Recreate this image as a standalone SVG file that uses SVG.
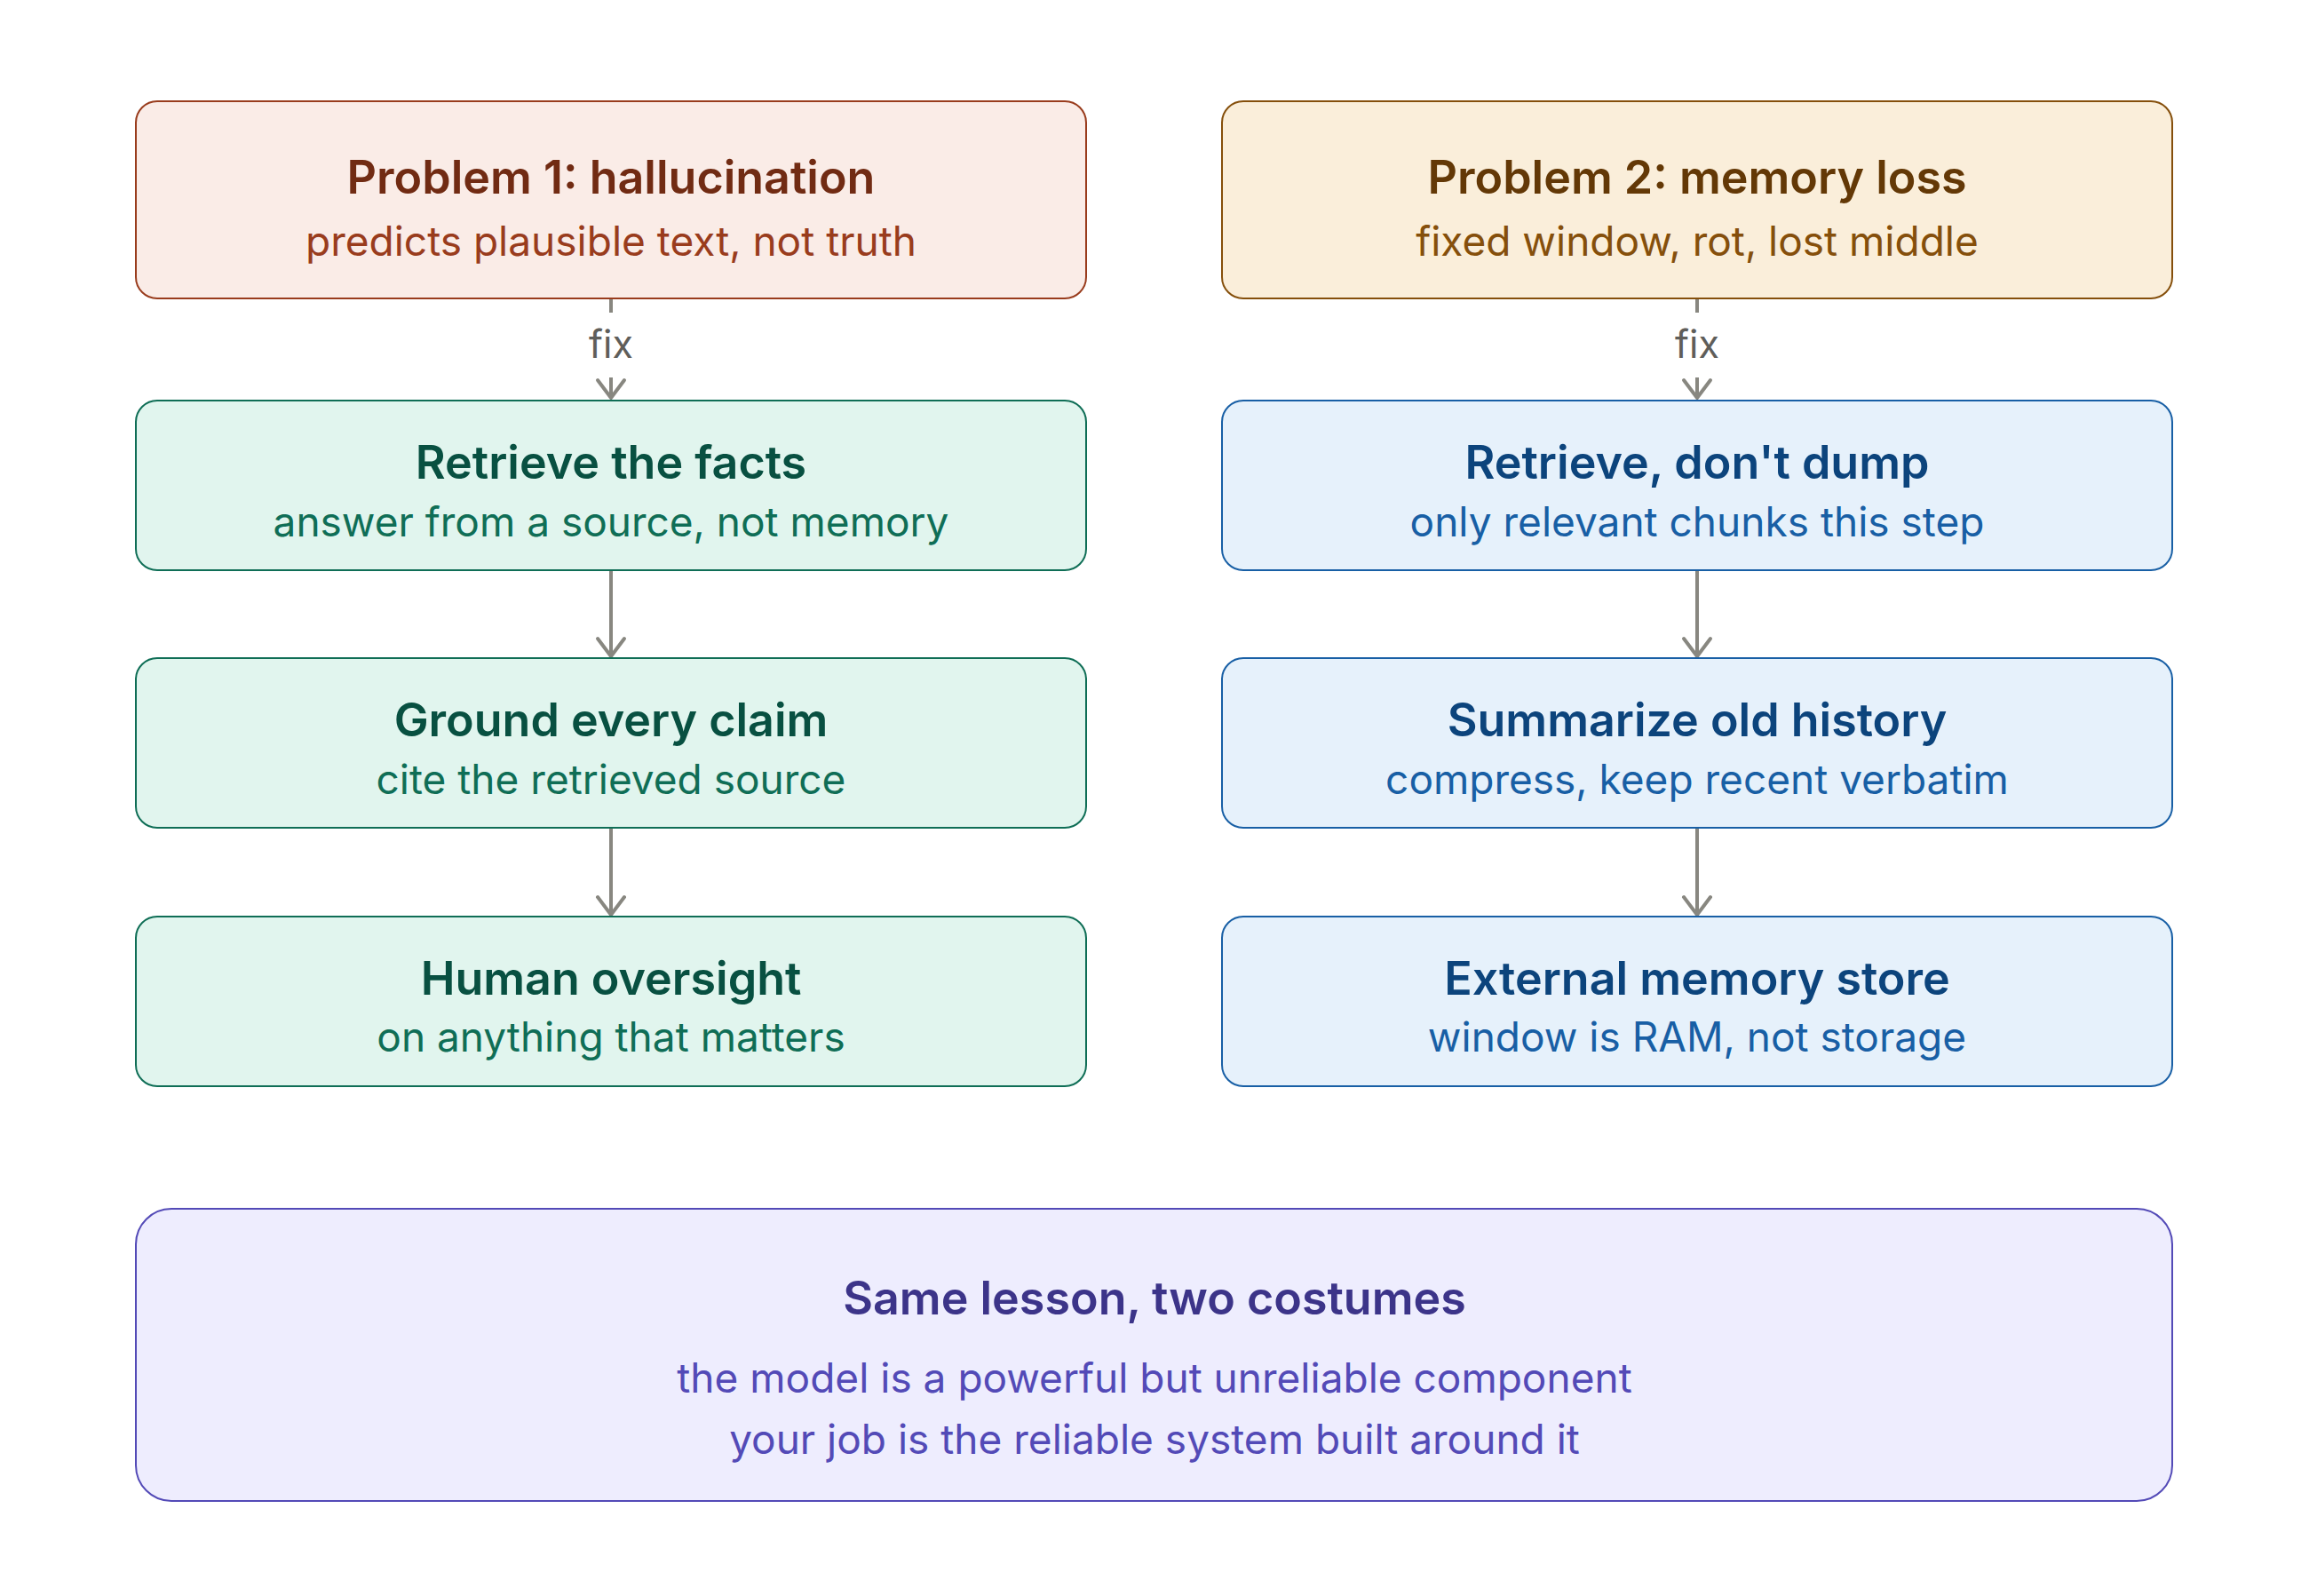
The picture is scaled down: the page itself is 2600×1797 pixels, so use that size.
<svg xmlns="http://www.w3.org/2000/svg" width="2600" height="1797" viewBox="0 0 2600 1797">
<style>
text{font-family:Inter,"Noto Sans","Liberation Sans",sans-serif;text-anchor:middle}
.t{font-size:52px;font-weight:600}
.s{font-size:46px;font-weight:400}
.lbl{font-size:43px;font-weight:400;fill:#5F5E5A}
.edge{fill:none;stroke:#888780;stroke-width:4}
.coral rect{fill:#FAECE7;stroke:#993C1D;stroke-width:2}
.coral .t{fill:#712B13}.coral .s{fill:#993C1D}
.amber rect{fill:#FAEEDA;stroke:#854F0B;stroke-width:2}
.amber .t{fill:#633806}.amber .s{fill:#854F0B}
.teal rect{fill:#E1F5EE;stroke:#0F6E56;stroke-width:2}
.teal .t{fill:#085041}.teal .s{fill:#0F6E56}
.blue rect{fill:#E6F1FB;stroke:#185FA5;stroke-width:2}
.blue .t{fill:#0C447C}.blue .s{fill:#185FA5}
.purple rect{fill:#EEEDFE;stroke:#534AB7;stroke-width:2}
.purple .t{fill:#3C3489}.purple .s{fill:#534AB7}
</style>
<defs>
<marker id="ah" viewBox="-24 -18 28 36" refX="0" refY="0" markerWidth="28" markerHeight="36" markerUnits="userSpaceOnUse" orient="auto">
<path d="M-20,-15 L0,0 L-20,15" fill="none" stroke="#888780" stroke-width="4" stroke-linecap="round" stroke-linejoin="round"/>
</marker>
</defs>
<rect width="2600" height="1797" fill="#FFFFFF"/>
<g id="connectors">
<line class="edge" x1="688" y1="337" x2="688" y2="352"/>
<line class="edge" x1="688" y1="425" x2="688" y2="448" marker-end="url(#ah)"/>
<text class="lbl" x="688" y="403">fix</text>
<line class="edge" x1="688" y1="643" x2="688" y2="739" marker-end="url(#ah)"/>
<line class="edge" x1="688" y1="933" x2="688" y2="1030" marker-end="url(#ah)"/>
<line class="edge" x1="1911" y1="337" x2="1911" y2="352"/>
<line class="edge" x1="1911" y1="425" x2="1911" y2="448" marker-end="url(#ah)"/>
<text class="lbl" x="1911" y="403">fix</text>
<line class="edge" x1="1911" y1="643" x2="1911" y2="739" marker-end="url(#ah)"/>
<line class="edge" x1="1911" y1="933" x2="1911" y2="1030" marker-end="url(#ah)"/>
</g>
<g id="problem1" class="coral">
<rect x="153" y="114" width="1070" height="222" rx="24"/>
<text class="t" x="688" y="218">Problem 1: hallucination</text>
<text class="s" x="688" y="288">predicts plausible text, not truth</text>
</g>
<g id="problem2" class="amber">
<rect x="1376" y="114" width="1070" height="222" rx="24"/>
<text class="t" x="1911" y="218">Problem 2: memory loss</text>
<text class="s" x="1911" y="288">fixed window, rot, lost middle</text>
</g>
<g id="retrieve-facts" class="teal">
<rect x="153" y="451" width="1070" height="191" rx="24"/>
<text class="t" x="688" y="539">Retrieve the facts</text>
<text class="s" x="688" y="604">answer from a source, not memory</text>
</g>
<g id="ground-claims" class="teal">
<rect x="153" y="741" width="1070" height="191" rx="24"/>
<text class="t" x="688" y="829">Ground every claim</text>
<text class="s" x="688" y="894">cite the retrieved source</text>
</g>
<g id="human-oversight" class="teal">
<rect x="153" y="1032" width="1070" height="191" rx="24"/>
<text class="t" x="688" y="1120">Human oversight</text>
<text class="s" x="688" y="1184">on anything that matters</text>
</g>
<g id="retrieve-dont-dump" class="blue">
<rect x="1376" y="451" width="1070" height="191" rx="24"/>
<text class="t" x="1911" y="539">Retrieve, don't dump</text>
<text class="s" x="1911" y="604">only relevant chunks this step</text>
</g>
<g id="summarize-history" class="blue">
<rect x="1376" y="741" width="1070" height="191" rx="24"/>
<text class="t" x="1911" y="829">Summarize old history</text>
<text class="s" x="1911" y="894">compress, keep recent verbatim</text>
</g>
<g id="external-memory" class="blue">
<rect x="1376" y="1032" width="1070" height="191" rx="24"/>
<text class="t" x="1911" y="1120">External memory store</text>
<text class="s" x="1911" y="1184">window is RAM, not storage</text>
</g>
<g id="lesson" class="purple">
<rect x="153" y="1361" width="2293" height="329" rx="40"/>
<text class="t" x="1300" y="1480">Same lesson, two costumes</text>
<text class="s" x="1300" y="1568">the model is a powerful but unreliable component</text>
<text class="s" x="1300" y="1637">your job is the reliable system built around it</text>
</g>
</svg>
